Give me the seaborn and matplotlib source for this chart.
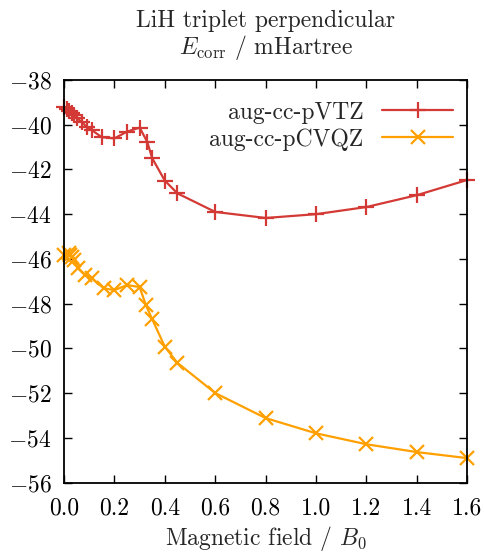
import matplotlib
matplotlib.use("Agg")
import matplotlib.pyplot as plt
import seaborn as sns
import pandas as pd

# Data
x_vtz = [0.0, 0.01, 0.02, 0.03, 0.04, 0.05, 0.07, 0.09, 0.11, 0.15, 0.2, 0.25, 0.3, 0.33, 0.35, 0.4, 0.45, 0.6, 0.8, 1.0, 1.2, 1.4, 1.6]
y_vtz = [-39.19, -39.28, -39.38, -39.48, -39.58, -39.70, -39.87, -40.10, -40.24, -40.56, -40.61, -40.31, -40.13, -40.76, -41.50, -42.50, -43.07, -43.90, -44.17, -44.00, -43.68, -43.15, -42.47]

x_cvqz = [0.0, 0.02, 0.025, 0.03, 0.04, 0.055, 0.083, 0.11, 0.157, 0.2, 0.25, 0.3, 0.325, 0.35, 0.4, 0.45, 0.6, 0.8, 1.0, 1.2, 1.4, 1.6]
y_cvqz = [-45.83, -45.74, -45.82, -45.92, -46.05, -46.41, -46.72, -46.86, -47.31, -47.40, -47.17, -47.26, -48.07, -48.70, -49.93, -50.65, -52.00, -53.12, -53.80, -54.29, -54.64, -54.91]

labels = ["aug-cc-pVTZ", "aug-cc-pCVQZ"]
colors = ["#d43a35", "#ffa000"]
xticks = [0.0, 0.2, 0.4, 0.6, 0.8, 1.0, 1.2, 1.4, 1.6]
yticks = [-56, -54, -52, -50, -48, -46, -44, -42, -40, -38]
title = "LiH triplet perpendicular\n$E_{\\mathrm{corr}}$ / mHartree"
xlabel = "Magnetic field / $B_0$"

sns.set_theme(style="ticks")
plt.rcParams.update({
    "font.family": "serif",
    "font.serif": ["cmr10"],
    "mathtext.fontset": "cm",
    "axes.formatter.use_mathtext": True,
    "font.size": 17,
    "axes.linewidth": 1.3,
    "xtick.direction": "in",
    "ytick.direction": "in",
    "xtick.top": True,
    "ytick.right": True,
    "xtick.major.size": 6,
    "ytick.major.size": 6,
    "xtick.major.width": 1.0,
    "ytick.major.width": 1.0,
    "xtick.color": "black",
    "ytick.color": "black",
    "axes.edgecolor": "black",
})

fig = plt.figure(figsize=(4.84, 5.53), dpi=100)
ax = fig.add_axes([64 / 484, 1 - 482.5 / 553, (467.3 - 64) / 484, (482.5 - 80) / 553])

df1 = pd.DataFrame({"x": x_vtz, "y": y_vtz})
df2 = pd.DataFrame({"x": x_cvqz, "y": y_cvqz})
sns.lineplot(data=df1, x="x", y="y", ax=ax, color=colors[0], marker="+", markersize=11,
             markeredgewidth=1.6, markeredgecolor=colors[0], linewidth=1.6,
             label=labels[0], clip_on=False)
sns.lineplot(data=df2, x="x", y="y", ax=ax, color=colors[1], marker="x", markersize=10,
             markeredgewidth=1.6, markeredgecolor=colors[1], linewidth=1.6,
             label=labels[1], clip_on=False)

ax.set_xlim(0, 1.6)
ax.set_ylim(-56, -38)
ax.set_xticks(xticks)
ax.set_xticklabels([f"{v:.1f}" for v in xticks])
ax.set_yticks(yticks)
ax.set_yticklabels([f"$-${abs(v)}" for v in yticks])
ax.tick_params(axis="y", labelsize=17, pad=9)
ax.tick_params(axis="x", labelsize=17, pad=11)
ax.set_xlabel(xlabel, fontsize=17, labelpad=3)
ax.set_ylabel("")
ax.set_title(title, fontsize=17, pad=19, linespacing=1.05)

leg = ax.legend(loc="upper right", bbox_to_anchor=(1.0, 0.982), frameon=False, markerfirst=False,
                handlelength=3.0, fontsize=17, labelspacing=0.2, handletextpad=0.8,
                borderaxespad=0.2)

fig.savefig("out.png", dpi=100)
